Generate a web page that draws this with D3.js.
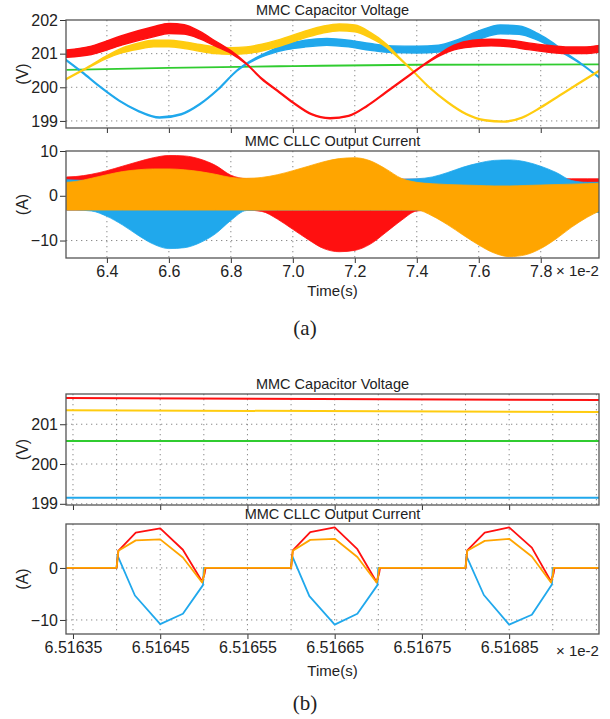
<!DOCTYPE html>
<html><head><meta charset="utf-8">
<script src="https://cdn.jsdelivr.net/npm/d3@7"></script>
<style>
html,body{margin:0;padding:0;background:#fff;}
svg text{font-family:"Liberation Sans",Arial,sans-serif;fill:#222;}
</style></head>
<body>
<svg id="chart" width="610" height="719"></svg>
<script>
// ---------------- DATA ----------------
// (a) MMC capacitor voltage, time in 1e-2 s
const redVoltT = [6.27,6.35,6.45,6.55,6.60,6.65,6.70,6.75,6.80,6.85,6.90,6.95,7.00,7.06,7.12,7.18,7.24,7.30,7.36,7.42,7.47,7.52,7.58,7.64,7.70,7.76,7.82,7.88,7.94,7.99];
const redVoltV = [201.0,201.1,201.4,201.65,201.75,201.72,201.55,201.3,201.05,200.7,200.25,199.9,199.55,199.2,199.08,199.15,199.45,199.85,200.25,200.65,200.95,201.18,201.3,201.33,201.3,201.22,201.15,201.1,201.1,201.15];
const redVoltRipple = [0.22,0.25,0.28,0.3,0.3,0.28,0.22,0.15,0.08,0.03,0.03,0.03,0.03,0.03,0.03,0.03,0.03,0.03,0.03,0.03,0.06,0.14,0.2,0.2,0.2,0.2,0.2,0.2,0.2,0.2];

const yelVoltT = [6.27,6.31,6.35,6.40,6.45,6.50,6.55,6.60,6.65,6.70,6.75,6.80,6.85,6.90,6.95,7.00,7.05,7.10,7.15,7.20,7.25,7.30,7.34,7.38,7.44,7.50,7.56,7.62,7.68,7.74,7.80,7.86,7.92,7.99];
const yelVoltV = [200.25,200.45,200.65,200.9,201.1,201.22,201.3,201.3,201.25,201.17,201.1,201.08,201.1,201.18,201.3,201.45,201.6,201.72,201.78,201.75,201.55,201.25,200.9,200.55,200.0,199.55,199.2,199.02,198.98,199.1,199.4,199.75,200.1,200.5];
const yelVoltRipple = [0.03,0.03,0.04,0.08,0.14,0.18,0.2,0.2,0.2,0.2,0.2,0.2,0.2,0.2,0.2,0.2,0.2,0.2,0.2,0.2,0.16,0.1,0.05,0.03,0.03,0.03,0.03,0.03,0.03,0.03,0.03,0.03,0.03,0.03];

const bluVoltT = [6.27,6.32,6.38,6.44,6.50,6.57,6.64,6.70,6.76,6.82,6.88,6.93,6.98,7.04,7.11,7.18,7.25,7.32,7.40,7.47,7.53,7.60,7.67,7.73,7.79,7.84,7.88,7.93,7.99];
const bluVoltV = [200.8,200.45,200.0,199.6,199.3,199.1,199.2,199.5,199.95,200.5,200.85,201.05,201.2,201.3,201.35,201.3,201.2,201.13,201.12,201.15,201.3,201.55,201.72,201.7,201.5,201.25,201.0,200.7,200.28];
const bluVoltRipple = [0.03,0.03,0.03,0.03,0.03,0.03,0.03,0.03,0.03,0.03,0.05,0.1,0.16,0.2,0.2,0.2,0.2,0.2,0.2,0.2,0.22,0.25,0.26,0.25,0.2,0.14,0.06,0.03,0.03];

const grnVoltT = [6.27,6.6,7.0,7.4,7.99];
const grnVoltV = [200.52,200.58,200.63,200.67,200.68];

// (a) MMC CLLC output current envelopes (A)
const curT      = [6.27,6.30,6.35,6.40,6.45,6.50,6.55,6.60,6.65,6.70,6.75,6.80,6.85,6.90,6.95,7.00,7.05,7.10,7.15,7.20,7.25,7.30,7.35,7.40,7.45,7.50,7.55,7.60,7.65,7.70,7.75,7.80,7.85,7.90,7.95,7.99];
const redCurTop = [4.2,4.3,4.8,5.6,6.6,7.6,8.5,9.0,8.9,8.2,6.8,4.6,3.8,3.7,3.7,3.7,3.7,3.7,3.7,3.7,3.7,3.7,3.7,3.7,3.7,3.7,3.7,3.7,3.7,3.7,3.7,3.8,3.8,3.8,3.8,3.8];
const redCurBot = [-3.2,-3.2,-3.2,-3.2,-3.2,-3.2,-3.2,-3.2,-3.2,-3.2,-3.2,-3.2,-3.2,-3.5,-5.2,-7.5,-9.8,-11.8,-12.5,-12.2,-10.8,-8.2,-5.5,-3.4,-3.2,-3.2,-3.2,-3.2,-3.2,-3.2,-3.2,-3.2,-3.2,-3.2,-3.2,-3.2];
const bluCurTop = [3.6,3.5,3.4,3.4,3.4,3.4,3.4,3.4,3.4,3.4,3.4,3.4,3.4,3.4,3.4,3.4,3.4,3.4,3.4,3.4,3.4,3.5,3.7,3.8,4.2,5.2,6.4,7.3,7.9,8.0,7.6,6.6,5.2,3.4,3.0,3.0];
const bluCurBot = [-3.2,-3.2,-3.4,-4.6,-6.5,-8.8,-10.8,-11.8,-11.6,-10.5,-8.5,-5.5,-3.3,-3.2,-3.2,-3.2,-3.2,-3.2,-3.2,-3.2,-3.2,-3.2,-3.2,-3.2,-3.2,-3.2,-3.2,-3.2,-3.2,-3.2,-3.2,-3.2,-3.2,-3.2,-3.4,-3.8];
const orgCurTop = [3.0,3.2,3.9,4.7,5.4,5.8,6.0,6.0,5.8,5.4,4.8,4.1,3.9,4.1,4.7,5.6,6.6,7.6,8.3,8.5,7.8,6.0,3.9,3.0,2.7,2.5,2.4,2.3,2.2,2.2,2.3,2.4,2.5,2.6,2.7,2.8];
const orgCurBot = [-3.2,-3.2,-3.2,-3.2,-3.2,-3.2,-3.2,-3.2,-3.2,-3.2,-3.2,-3.2,-3.2,-3.2,-3.2,-3.2,-3.2,-3.2,-3.2,-3.2,-3.2,-3.2,-3.2,-3.2,-4.5,-6.5,-8.8,-11.0,-12.8,-13.6,-13.2,-11.8,-9.6,-7.0,-4.8,-3.4];

// (b) zoomed capacitor voltage (time in 1e-2 s)
const zVoltT = [6.516342,6.516953];
const zRedV = [201.66,201.61];
const zYelV = [201.35,201.31];
const zGrnV = [200.58,200.58];
const zBluV = [199.15,199.15];

// (b) zoomed output current
const zRedT = [6.516342,6.51640,6.516402,6.516422,6.51645,6.516476,6.516498,6.516501,6.516502,
               6.51660,6.516602,6.516622,6.51665,6.516676,6.516698,6.516701,6.516702,
               6.51680,6.516802,6.516822,6.51685,6.516876,6.516898,6.516901,6.516902,6.516953];
const zRedI = [0,0,3.3,6.8,7.6,3.5,-2.6,-1.0,0,
               0,3.4,6.9,7.8,3.6,-2.7,-1.0,0,
               0,3.4,6.8,7.8,3.9,-2.6,-1.0,0,0];
const zOrgT = [6.516342,6.51640,6.516402,6.516422,6.51645,6.516476,6.516498,6.516500,6.516501,
               6.51660,6.516602,6.516622,6.51665,6.516676,6.516698,6.516700,6.516701,
               6.51680,6.516802,6.516822,6.51685,6.516876,6.516898,6.516900,6.516901,6.516953];
const zOrgI = [0,0,3.3,5.3,5.5,2.0,-2.8,-1.5,0,
               0,3.3,5.4,5.6,2.1,-2.8,-1.5,0,
               0,3.3,5.2,5.6,2.2,-2.8,-1.5,0,0];
const zBluT = [6.516342,6.51640,6.516401,6.516421,6.51645,6.516476,6.516499,6.516500,
               6.51660,6.516601,6.516621,6.51665,6.516676,6.516699,6.516700,
               6.51680,6.516801,6.516821,6.51685,6.516876,6.516899,6.516900,6.516953];
const zBluI = [0,0,2.4,-5.3,-10.8,-8.8,-3.3,0,
               0,2.4,-5.4,-10.9,-8.8,-3.3,0,
               0,2.3,-5.2,-10.9,-9.0,-3.2,0,0];

// tick labels
const ticksA = [6.4,6.6,6.8,7.0,7.2,7.4,7.6,7.8];
const ticksB = [6.51635,6.51645,6.51655,6.51665,6.51675,6.51685];
const gridB  = [6.51635,6.5164,6.51645,6.5165,6.51655,6.5166,6.51665,6.5167,6.51675,6.5168,6.51685,6.5169,6.51695];

// colors
const C_RED="#ff1010", C_YEL="#ffcc10", C_BLU="#20a8ec", C_GRN="#30cc30", C_ORG="#ffa500";

// ---------------- DRAW ----------------
const svg = d3.select("#chart");
const L = 66, R = 599;

function panel(o){
  const g = svg.append("g");
  const x = d3.scaleLinear().domain(o.xd).range([L,R]);
  const y = d3.scaleLinear().domain(o.yd).range([o.bot,o.top]);
  const clipId = "clip"+o.id;
  svg.append("clipPath").attr("id",clipId).append("rect")
     .attr("x",L).attr("y",o.top).attr("width",R-L).attr("height",o.bot-o.top);
  // grid
  const grid = g.append("g");
  o.gx.forEach(v=>{ if(x(v)>L+1 && x(v)<R-1) grid.append("line")
     .attr("x1",x(v)).attr("x2",x(v)).attr("y1",o.top).attr("y2",o.bot)
     .attr("stroke","#8a8a8a").attr("stroke-width",1).attr("stroke-dasharray","1.3,3.7");});
  o.gy.forEach(v=>{ grid.append("line")
     .attr("x1",L).attr("x2",R).attr("y1",y(v)).attr("y2",y(v))
     .attr("stroke","#8a8a8a").attr("stroke-width",1).attr("stroke-dasharray","1.3,3.7");});
  const plot = g.append("g").attr("clip-path","url(#"+clipId+")");
  // y axis
  const ya = g.append("g").attr("transform","translate("+L+",0)")
     .call(d3.axisLeft(y).tickValues(o.yt).tickFormat(d3.format("d")).tickSize(6).tickPadding(2));
  ya.select(".domain").remove();
  ya.selectAll("text").style("font-size","16px").attr("fill","#222");
  ya.selectAll("line").attr("stroke","#333");
  // x axis ticks
  const xa = g.append("g").attr("transform","translate(0,"+o.bot+")")
     .call(d3.axisBottom(x).tickValues(o.xt).tickFormat(o.xf||"").tickSize(5).tickPadding(3));
  xa.select(".domain").remove();
  xa.selectAll("text").style("font-size","16px").attr("fill","#222");
  xa.selectAll("line").attr("stroke","#333");
  // box
  g.append("rect").attr("x",L).attr("y",o.top).attr("width",R-L).attr("height",o.bot-o.top)
   .attr("fill","none").attr("stroke","#555").attr("stroke-width",1.3);
  // title
  svg.append("text").attr("x",(L+R)/2).attr("y",o.top-5).attr("text-anchor","middle")
     .style("font-size","14.5px").text(o.title);
  // y label
  svg.append("text").attr("transform","translate(28,"+((o.top+o.bot)/2)+") rotate(-90)")
     .attr("text-anchor","middle").style("font-size","16px").text(o.ylab);
  return {x,y,plot,g};
}

function bandSeries(p, T, V, W, color){
  const pts = T.map((t,i)=>({t,v:V[i],w:W[i]}));
  p.plot.append("path").datum(pts)
    .attr("d", d3.area().curve(d3.curveMonotoneX).x(d=>p.x(d.t)).y0(d=>p.y(d.v-d.w/2)).y1(d=>p.y(d.v+d.w/2)))
    .attr("fill",color).attr("stroke",color).attr("stroke-width",1.4);
}
function lineSeries(p, T, V, color, w, curve){
  const pts = T.map((t,i)=>({t,v:V[i]}));
  p.plot.append("path").datum(pts)
    .attr("d", d3.line().curve(curve||d3.curveLinear).x(d=>p.x(d.t)).y(d=>p.y(d.v)))
    .attr("fill","none").attr("stroke",color).attr("stroke-width",w).attr("stroke-linejoin","round");
}
function envSeries(p, T, TOP, BOT, color){
  const pts = T.map((t,i)=>({t,a:TOP[i],b:BOT[i]}));
  p.plot.append("path").datum(pts)
    .attr("d", d3.area().curve(d3.curveMonotoneX).x(d=>p.x(d.t)).y0(d=>p.y(d.b)).y1(d=>p.y(d.a)))
    .attr("fill",color).attr("stroke",color).attr("stroke-width",0.8);
}

// Panel 1
const p1 = panel({id:1, xd:[6.268,7.988], yd:[198.79,202], top:20, bot:128,
  gx:ticksA, gy:[201,200,199], yt:[199,200,201,202], xt:ticksA, xf:"",
  title:"MMC Capacitor Voltage", ylab:"(V)"});
lineSeries(p1, grnVoltT, grnVoltV, C_GRN, 1.8, d3.curveMonotoneX);
bandSeries(p1, bluVoltT, bluVoltV, bluVoltRipple, C_BLU);
bandSeries(p1, yelVoltT, yelVoltV, yelVoltRipple, C_YEL);
bandSeries(p1, redVoltT, redVoltV, redVoltRipple, C_RED);

// Panel 2
const p2 = panel({id:2, xd:[6.268,7.988], yd:[-13.9,10], top:151, bot:258,
  gx:ticksA, gy:[0,-10], yt:[-10,0,10], xt:ticksA, xf:d3.format(".1f"),
  title:"MMC CLLC Output Current", ylab:"(A)"});
envSeries(p2, curT, redCurTop, redCurBot, C_RED);
envSeries(p2, curT, bluCurTop, bluCurBot, C_BLU);
envSeries(p2, curT, orgCurTop, orgCurBot, C_ORG);
svg.append("text").attr("x",556).attr("y",276).attr("text-anchor","start").style("font-size","15px").text("× 1e-2");
svg.append("text").attr("x",(L+R)/2).attr("y",296).attr("text-anchor","middle").style("font-size","15px").text("Time(s)");
svg.append("text").attr("x",305).attr("y",335).attr("text-anchor","middle")
   .style("font-size","21px").style("font-family","'Liberation Serif','Times New Roman',serif").text("(a)");

// Panel 3
const p3 = panel({id:3, xd:[6.516342,6.516953], yd:[198.97,201.76], top:394, bot:505,
  gx:gridB, gy:[201,200,199], yt:[199,200,201], xt:ticksB, xf:"",
  title:"MMC Capacitor Voltage", ylab:"(V)"});
lineSeries(p3, zVoltT, zRedV, C_RED, 2);
lineSeries(p3, zVoltT, zYelV, C_YEL, 2);
lineSeries(p3, zVoltT, zGrnV, C_GRN, 2);
lineSeries(p3, zVoltT, zBluV, C_BLU, 2);

// Panel 4
const p4 = panel({id:4, xd:[6.516342,6.516953], yd:[-12.7,8.45], top:524, bot:634,
  gx:gridB, gy:[0,-10], yt:[-10,0], xt:ticksB, xf:d3.format(".5f"),
  title:"MMC CLLC Output Current", ylab:"(A)"});
lineSeries(p4, zBluT, zBluI, C_BLU, 1.8);
lineSeries(p4, zRedT, zRedI, C_RED, 1.8);
lineSeries(p4, zOrgT, zOrgI, C_ORG, 1.8);
svg.append("text").attr("x",556).attr("y",656).attr("text-anchor","start").style("font-size","15px").text("× 1e-2");
svg.append("text").attr("x",(L+R)/2).attr("y",676).attr("text-anchor","middle").style("font-size","15px").text("Time(s)");
svg.append("text").attr("x",305).attr("y",710).attr("text-anchor","middle")
   .style("font-size","21px").style("font-family","'Liberation Serif','Times New Roman',serif").text("(b)");
</script>
</body></html>
